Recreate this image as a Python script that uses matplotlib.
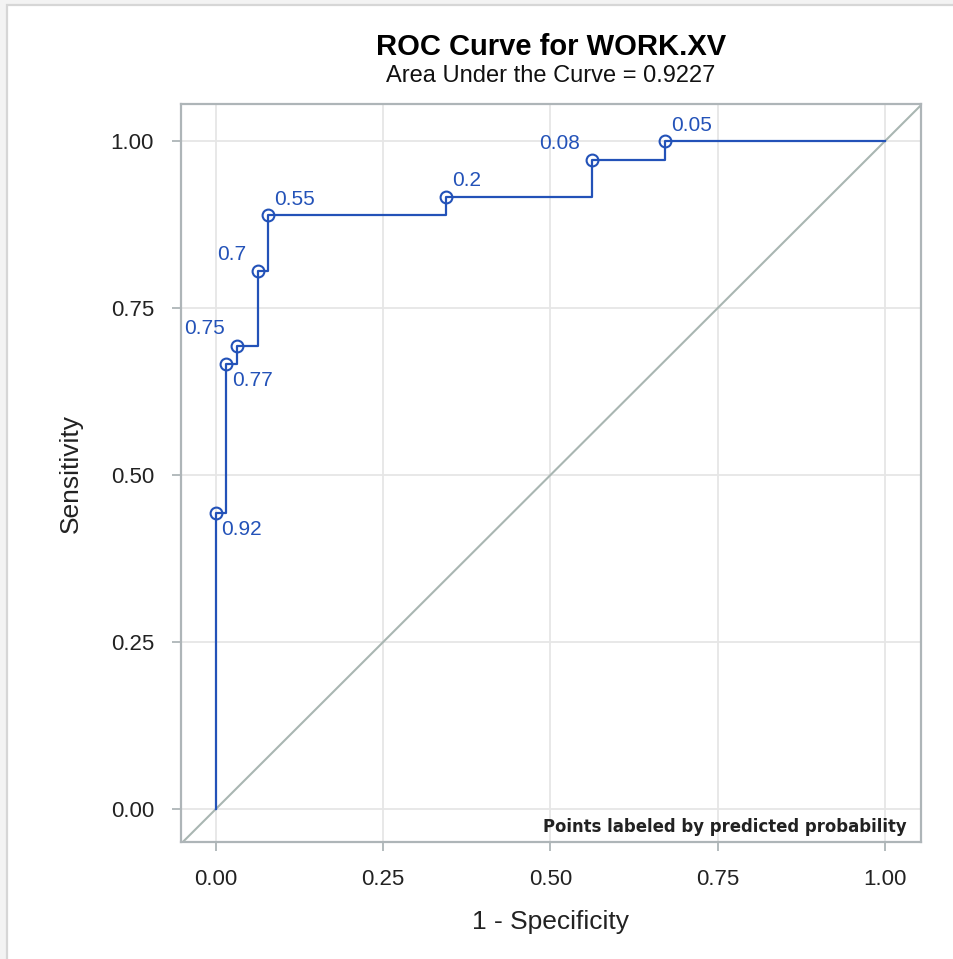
import matplotlib
matplotlib.use('Agg')
import matplotlib.pyplot as plt
from matplotlib.patches import Rectangle

# ROC curve vertices (1 - specificity, sensitivity)
fpr = [0.0, 0.0, 0.0154, 0.0314, 0.0633, 0.078, 0.3444, 0.5624, 0.671, 1.0]
tpr = [0.0, 0.444, 0.667, 0.694, 0.806, 0.889, 0.917, 0.972, 1.0, 1.0]
# predicted probability labels at cutoff points ('' = unlabeled vertex)
point_labels = ['', '0.92', '0.77', '0.75', '0.7', '0.55', '0.2', '0.08', '0.05', '']
# label placement: 'ur' upper right, 'ul' upper left, 'lr' lower right
label_pos = ['', 'lr', 'lr', 'ul', 'ul', 'ur', 'ur', 'ul', 'ur', '']

ticks = [0.0, 0.25, 0.5, 0.75, 1.0]
tick_labels = ['0.00', '0.25', '0.50', '0.75', '1.00']
title = 'ROC Curve for WORK.XV'
subtitle = 'Area Under the Curve = 0.9227'
note = 'Points labeled by predicted probability'

blue = '#2352B8'
spine_c = '#AEB5B8'
diag_c = '#A9B6B2'
grid_c = '#E6E6E6'

plt.rcParams['font.family'] = ['Liberation Sans', 'DejaVu Sans']

W, H = 954, 959
fig = plt.figure(figsize=(W / 100, H / 100), dpi=100, facecolor='#F3F3F3')
bg = Rectangle((7.5 / W, -0.02), 1.05, 1 - 5 / H + 0.02,
               transform=fig.transFigure, facecolor='white',
               edgecolor='#D6D6D6', lw=1.6, zorder=-10)
fig.patches.append(bg)

ax = fig.add_axes([181 / W, 1 - 842 / H, (920.7 - 181) / W, (842 - 104.3) / H])
ax.set_zorder(1)
ax.set_facecolor('white')
ax.set_xlim(-0.0517, 1.0533)
ax.set_ylim(-0.049, 1.055)

ax.set_xticks(ticks)
ax.set_xticklabels(tick_labels)
ax.set_yticks(ticks)
ax.set_yticklabels(tick_labels)
ax.grid(True, color=grid_c, lw=1.3, zorder=0)
ax.set_axisbelow(True)
for s in ax.spines.values():
    s.set_color(spine_c)
    s.set_linewidth(1.6)
ax.tick_params(axis='both', length=6.5, width=1.3, color=spine_c,
               labelsize=16, labelcolor='#222222', pad=13)

ax.axline((0, 0), (1, 1), color=diag_c, lw=1.5, zorder=1)
ax.plot(fpr, tpr, drawstyle='steps-post', color=blue, lw=1.6, zorder=3)

lx = [x for x, l in zip(fpr, point_labels) if l]
ly = [y for y, l in zip(tpr, point_labels) if l]
ax.plot(lx, ly, 'o', mfc='none', mec=blue, ms=8.5, mew=1.5, zorder=4)

offsets = {'ur': ((4.3, 7.5), 'left'), 'ul': ((-8.5, 8), 'right'),
           'lr': ((4.3, -16), 'left')}
for x, y, l, p in zip(fpr, tpr, point_labels, label_pos):
    if not l:
        continue
    off, ha = offsets[p]
    ax.annotate(l, (x, y), xytext=off, textcoords='offset points',
                ha=ha, va='baseline', fontsize=15, color=blue, zorder=5)

ax.text(0.9815, 0.0136, note, transform=ax.transAxes, ha='right',
        va='baseline', fontsize=11.9, fontweight='bold', color='#222222',
        family=['DejaVu Sans'])

ax.set_xlabel('1 - Specificity', fontsize=19, color='#222222', labelpad=14)
ax.set_ylabel('Sensitivity', fontsize=19, color='#222222', labelpad=20)

cx = (181 + 920.7) / 2 / W
fig.text(cx, 1 - 55 / H, title, ha='center', va='baseline', fontsize=21,
         fontweight='bold', color='black')
fig.text(cx, 1 - 82 / H, subtitle, ha='center', va='baseline', fontsize=17,
         color='#111111')

fig.savefig('out.png', dpi=100, facecolor=fig.get_facecolor())
